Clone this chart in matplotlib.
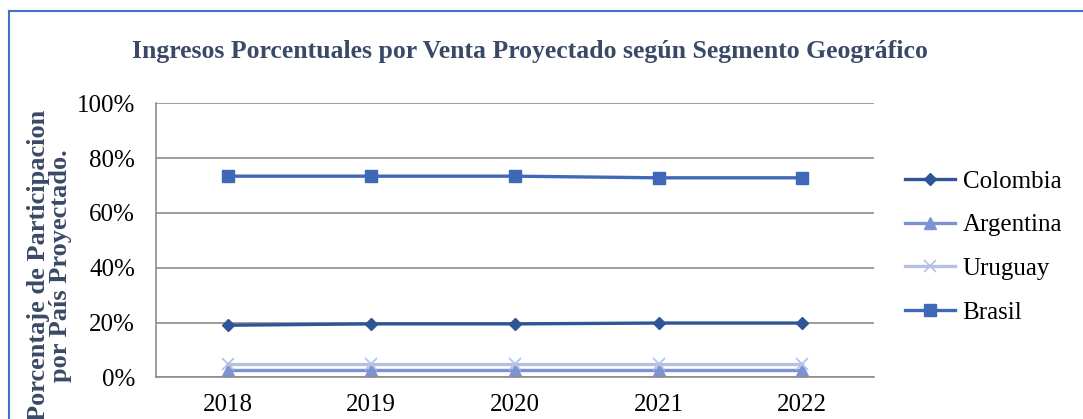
import matplotlib
matplotlib.use("Agg")
import matplotlib.pyplot as plt
from matplotlib.lines import Line2D
from matplotlib.ticker import PercentFormatter

years = ["2018", "2019", "2020", "2021", "2022"]
colombia = [19.0, 19.5, 19.5, 19.8, 19.8]
argentina = [2.8, 2.8, 2.8, 2.8, 2.8]
uruguay = [4.7, 4.7, 4.7, 4.7, 4.7]
brasil = [73.4, 73.4, 73.4, 72.8, 72.8]
yticks = [0, 20, 40, 60, 80, 100]

serif = ["Liberation Serif", "DejaVu Serif"]
plt.rcParams["font.family"] = serif

fig = plt.figure(figsize=(10.83, 4.19), dpi=100)
ax = fig.add_axes([0.1438, 0.0995, 0.8072 - 0.1438, 0.7535 - 0.0995])

x = list(range(len(years)))
ax.plot(x, colombia, color="#2F5597", lw=2.4, marker="D", ms=6, label="Colombia")
ax.plot(x, argentina, color="#7B93D3", lw=2.4, marker="^", ms=8, label="Argentina")
ax.plot(x, uruguay, color="#B4C0E4", lw=2.4, marker="x", ms=8, mew=1.2, label="Uruguay")
ax.plot(x, brasil, color="#3F68B8", lw=2.4, marker="s", ms=8, label="Brasil")

ax.set_xlim(-0.5, len(years) - 0.5)
ax.set_ylim(0, 100)
ax.set_xticks(x)
ax.set_xticklabels(years)
ax.set_yticks(yticks)
ax.yaxis.set_major_formatter(PercentFormatter(100, decimals=0))
ax.tick_params(axis="both", length=0, labelsize=18, colors="black")
ax.tick_params(axis="y", pad=15)
ax.tick_params(axis="x", pad=12)
ax.grid(axis="y", color="#8C8C8C", lw=1.2)
ax.set_axisbelow(True)
for s in ["top", "right"]:
    ax.spines[s].set_visible(False)
for s in ["left", "bottom"]:
    ax.spines[s].set_color("#8C8C8C")
    ax.spines[s].set_linewidth(1.2)

leg = fig.legend(loc="center left", bbox_to_anchor=(905 / 1083, 1 - 247 / 419), frameon=False,
                 fontsize=18, handlelength=2.0, handletextpad=0.3, labelspacing=0.85,
                 borderaxespad=0, borderpad=0)

fig.text(0.489, 0.878, "Ingresos Porcentuales por Venta Proyectado según Segmento Geográfico",
         ha="center", va="center", fontsize=18.5, fontweight="bold", color="#3A4A66")
fig.text(0.046, 0.367, "Porcentaje de Participacion\npor País Proyectado.",
         rotation=90, ha="center", va="center", multialignment="center",
         fontsize=19, fontweight="bold", color="#3A4A66", linespacing=0.95)

fig.add_artist(Line2D([9 / 1083, 1.0], [1 - 11 / 419, 1 - 11 / 419], transform=fig.transFigure,
                      color="#4472C4", lw=1.5))
fig.add_artist(Line2D([9 / 1083, 9 / 1083], [0.0, 1 - 11 / 419], transform=fig.transFigure,
                      color="#4472C4", lw=1.5))

fig.savefig("out.png", dpi=100)
